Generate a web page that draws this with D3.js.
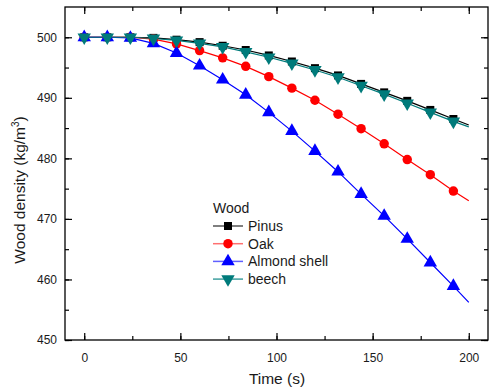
<!DOCTYPE html>
<html>
<head>
<meta charset="utf-8">
<title>Wood density</title>
<script src="https://cdn.jsdelivr.net/npm/d3@7"></script>
<style>
  body { margin: 0; background: #fff; }
  text { font-family: Arial, "Liberation Sans", sans-serif; fill: #1a1a1a; }
</style>
</head>
<body>
<script>
// time (s); markers every 12 s, curve ends at 200
var time = [0, 12, 24, 36, 48, 60, 72, 84, 96, 108, 120, 132, 144, 156, 168, 180, 192, 200];

var pinus  = [500, 500, 500, 499.9, 499.6, 499.2, 498.6, 497.9, 497.0, 496.0, 494.9, 493.7, 492.3, 490.9, 489.5, 488.0, 486.5, 485.5];
var oak    = [500, 500, 500, 499.7, 498.9, 497.8, 496.6, 495.2, 493.5, 491.6, 489.6, 487.3, 484.9, 482.4, 479.8, 477.3, 474.6, 473.0];
var almond = [500, 500, 499.9, 499.0, 497.4, 495.3, 493.0, 490.5, 487.6, 484.5, 481.2, 477.8, 474.1, 470.5, 466.7, 462.8, 458.9, 456.2];
var beech  = [500, 500, 500, 499.8, 499.5, 499.0, 498.4, 497.6, 496.7, 495.7, 494.6, 493.4, 492.0, 490.6, 489.1, 487.6, 486.1, 485.2];

var seriesNames = ["Pinus", "Oak", "Almond shell", "beech"];
var xTicks = [0, 50, 100, 150, 200];
var yTicks = [450, 460, 470, 480, 490, 500];

var series = [
  {name: seriesNames[0], values: pinus,  color: "#000000", legendLine: "#555555", shape: d3.symbolSquare,   size: 64},
  {name: seriesNames[1], values: oak,    color: "#ff0000", legendLine: "#ff7070", shape: d3.symbolCircle,   size: 70},
  {name: seriesNames[2], values: almond, color: "#0000ff", legendLine: "#6060ff", shape: d3.symbolTriangle, size: 78},
  {name: seriesNames[3], values: beech,  color: "#007b7b", legendLine: "#40a0a0", shape: d3.symbolTriangle, size: 78, flip: true}
];

var W = 489, H = 392;
var svg = d3.select("body").append("svg").attr("width", W).attr("height", H);

var x = d3.scaleLinear().domain([-10, 210]).range([65, 488]);
var y = d3.scaleLinear().domain([450, 505]).range([340, 7]);

// frame
svg.append("rect")
  .attr("x", x(-10)).attr("y", y(505))
  .attr("width", x(210) - x(-10)).attr("height", y(450) - y(505))
  .attr("fill", "none").attr("stroke", "#000").attr("stroke-width", 1.3);

function axisStyle(g) {
  g.select(".domain").remove();
  g.selectAll("line").attr("stroke", "#000").attr("stroke-width", 1.2);
  g.selectAll("text").style("font-size", "12px").attr("fill", "#1a1a1a");
}

var xMinor = d3.range(0, 201, 25);
var yMinor = d3.range(450, 501, 5);

// bottom
svg.append("g").attr("transform", "translate(0," + y(450) + ")")
  .call(d3.axisBottom(x).tickValues(xMinor).tickSize(-4).tickFormat(""))
  .call(axisStyle);
svg.append("g").attr("transform", "translate(0," + y(450) + ")")
  .call(d3.axisBottom(x).tickValues(xTicks).tickSizeInner(-7).tickPadding(13).tickFormat(d3.format("d")))
  .call(axisStyle);
// top
svg.append("g").attr("transform", "translate(0," + y(505) + ")")
  .call(d3.axisTop(x).tickValues(xMinor).tickSize(-4).tickFormat(""))
  .call(axisStyle);
svg.append("g").attr("transform", "translate(0," + y(505) + ")")
  .call(d3.axisTop(x).tickValues(xTicks).tickSize(-7).tickFormat(""))
  .call(axisStyle);
// left
svg.append("g").attr("transform", "translate(" + x(-10) + ",0)")
  .call(d3.axisLeft(y).tickValues(yMinor).tickSize(-4).tickFormat(""))
  .call(axisStyle);
svg.append("g").attr("transform", "translate(" + x(-10) + ",0)")
  .call(d3.axisLeft(y).tickValues(yTicks).tickSizeInner(-7).tickPadding(8).tickFormat(d3.format("d")))
  .call(axisStyle);
// right
svg.append("g").attr("transform", "translate(" + x(210) + ",0)")
  .call(d3.axisRight(y).tickValues(yMinor).tickSize(-4).tickFormat(""))
  .call(axisStyle);
svg.append("g").attr("transform", "translate(" + x(210) + ",0)")
  .call(d3.axisRight(y).tickValues(yTicks).tickSize(-7).tickFormat(""))
  .call(axisStyle);

// lines and markers
var line = d3.line().x(function(d) { return x(d[0]); }).y(function(d) { return y(d[1]); });

series.forEach(function(s) {
  var pts = time.map(function(t, i) { return [t, s.values[i]]; });
  svg.append("path").datum(pts)
    .attr("d", line).attr("fill", "none")
    .attr("stroke", s.color).attr("stroke-width", 1.2);
});

series.forEach(function(s) {
  var pts = time.map(function(t, i) { return [t, s.values[i]]; })
    .filter(function(d) { return d[0] % 12 === 0; });
  svg.append("g").selectAll("path").data(pts).enter().append("path")
    .attr("d", d3.symbol().type(s.shape).size(s.size))
    .attr("transform", function(d) {
      return "translate(" + x(d[0]) + "," + y(d[1]) + ")" + (s.flip ? " rotate(180)" : "");
    })
    .attr("fill", s.color);
});

// legend
var lg = svg.append("g").attr("transform", "translate(213,0)");
lg.append("text").attr("x", 0).attr("y", 213).style("font-size", "14px").text("Wood");
series.forEach(function(s, i) {
  var yy = 226 + i * 17.7;
  lg.append("line").attr("x1", 0).attr("x2", 30).attr("y1", yy).attr("y2", yy)
    .attr("stroke", s.legendLine).attr("stroke-width", 1.5);
  lg.append("path")
    .attr("d", d3.symbol().type(s.shape).size(s.size))
    .attr("transform", "translate(15," + yy + ")" + (s.flip ? " rotate(180)" : ""))
    .attr("fill", s.color);
  lg.append("text").attr("x", 35).attr("y", yy + 5).style("font-size", "14px").text(s.name);
});

// axis titles
svg.append("text").attr("x", 277).attr("y", 384).attr("text-anchor", "middle")
  .style("font-size", "15.5px").text("Time (s)");

var yt = svg.append("text").attr("transform", "translate(25,190) rotate(-90)")
  .attr("text-anchor", "middle").style("font-size", "15.5px");
yt.append("tspan").text("Wood density (kg/m");
yt.append("tspan").attr("dy", -6).style("font-size", "10px").text("3");
yt.append("tspan").attr("dy", 6).text(")");
</script>
</body>
</html>
